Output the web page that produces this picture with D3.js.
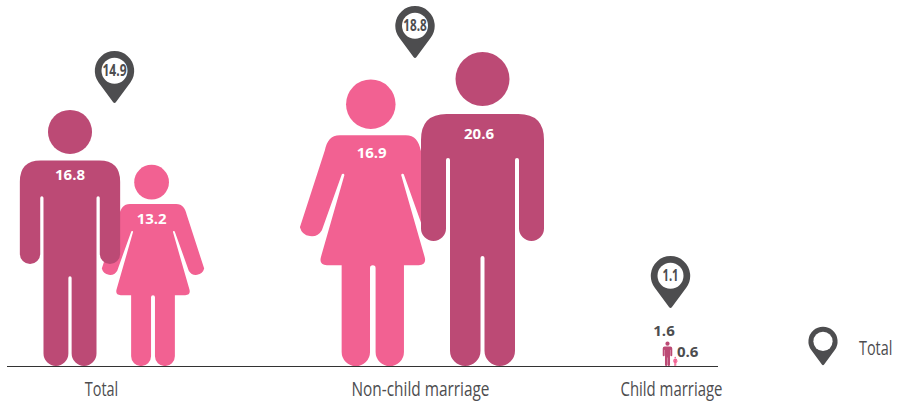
<!DOCTYPE html>
<html>
<head>
<meta charset="utf-8">
<script src="https://cdnjs.cloudflare.com/ajax/libs/d3/7.8.5/d3.min.js"></script>
<style>
  html, body { margin: 0; padding: 0; background: #fff; }
  svg { display: block; }
  .val { font-family: "Open Sans", sans-serif; font-weight: 700; font-size: 15px; text-anchor: middle; }
  .cat { font-family: "Open Sans", sans-serif; font-size: 20px; fill: #4d4d4f; }
  .pin-val { font-family: "Open Sans", sans-serif; font-weight: 700; font-size: 16px; fill: #4d4d4f; text-anchor: middle; }
</style>
</head>
<body>
<div id="chart"></div>
<script>
// values
const groups = ["Total", "Non-child marriage", "Child marriage"];
const maleValues = [16.8, 20.6, 1.6];
const femaleValues = [13.2, 16.9, 0.6];
const totalValues = [14.9, 18.8, 1.1];
// the pink non-child figure is drawn at the height of 18.8 in the source, not 16.9
const femaleDrawn = [13.2, 18.8, 0.6];

const width = 900;
const height = 401;
const baseline = 366;
const colors = { male: "#bc4a75", female: "#f26192", pin: "#4d4d4f" };

// group layout, the source spaces these by hand
const xCat = d3.scaleOrdinal(groups, [101, 420, 671]);
const catWidth = d3.scaleOrdinal(groups, [33.5, 138, 102]);
const xMale = d3.scaleOrdinal(groups, [70, 482.5, 667.5]);
const xFemale = d3.scaleOrdinal(groups, [153, 372.8, 675.3]);
const xMaleLabel = d3.scaleOrdinal(groups, [70, 479, 664]);
const yMaleLabel = d3.scaleOrdinal(groups, [175, 134, 331]);
const xFemaleLabel = d3.scaleOrdinal(groups, [151.7, 371.7, 687.7]);
const yFemaleLabel = d3.scaleOrdinal(groups, [219, 152.5, 351.7]);
const xPin = d3.scaleOrdinal(groups, [114.5, 415, 670.5]);
const yPinTip = d3.scaleOrdinal(groups, [104, 59, 309]);
const pinTextWidth = d3.scaleOrdinal(groups, [24, 23.5, 16]);

const y = d3.scaleLinear().domain([0, 20.6]).range([baseline, 52]);

// icon outlines, centred on x=0 with the top at y=0
const maleH = 314;
const maleBody = "M-36 62H36Q61.5 62 61.5 88V176.5A12.5 12.5 0 0 1 36.5 176.5V108A2 2 0 0 0 32.5 108V298.75" +
  "A15.25 15.25 0 0 1 2 298.75V206A2 2 0 0 0 -2 206V298.75A15.25 15.25 0 0 1 -32.5 298.75V108" +
  "A2 2 0 0 0 -36.5 108V176.5A12.5 12.5 0 0 1 -61.5 176.5V88Q-61.5 62 -36 62Z";
const femaleH = 287;
const femaleBody = "M-33 56H33C42 56 46 62 48 71L73 148A12 12 0 0 1 51 151L31 95A1.4 1.4 0 0 0 28.5 96L52 178" +
  "Q54 186 46 186H31.2V273A14.2 14.2 0 0 1 2.8 273V189A2.8 2.8 0 0 0 -2.8 189V273A14.2 14.2 0 0 1 -31.2 273V186" +
  "H-46Q-54 186 -52 178L-28.5 96A1.4 1.4 0 0 0 -31 95L-51 151A12 12 0 0 1 -73 148L-48 71C-46 62 -42 56 -33 56Z";
// pin with tip at 0,0
const pinShape = "M-1.5 -2L-15.9 -21.6A19.7 19.7 0 1 1 15.9 -21.6L1.5 -2Q0 0 -1.5 -2Z";

const svg = d3.select("#chart").append("svg")
  .attr("width", width)
  .attr("height", height)
  .attr("viewBox", "0 0 " + width + " " + height);

function drawFigure(x, v, shape, fullH, headX, headY, headR, color) {
  const h = baseline - y(v);
  const k = h / fullH;
  const g = svg.append("g")
    .attr("transform", "translate(" + x + "," + y(v) + ") scale(" + k + ")")
    .attr("fill", color);
  g.append("circle").attr("cx", headX).attr("cy", headY).attr("r", headR);
  g.append("path").attr("d", shape);
}

// females go first, the male arm sits over them
groups.forEach((g, i) => {
  drawFigure(xFemale(g), femaleDrawn[i], femaleBody, femaleH, -2, 24.8, 24.8, colors.female);
});
groups.forEach((g, i) => {
  drawFigure(xMale(g), maleValues[i], maleBody, maleH, 0, 27, 27, colors.male);
});

// value labels, white inside big figures, dark beside the tiny ones
const labelFill = (v) => v > 5 ? "#fff" : colors.pin;
groups.forEach((g, i) => {
  svg.append("text").attr("class", "val")
    .attr("x", xMaleLabel(g))
    .attr("y", yMaleLabel(g))
    .attr("dy", "0.36em")
    .attr("fill", labelFill(maleValues[i]))
    .text(maleValues[i].toFixed(1));
  svg.append("text").attr("class", "val")
    .attr("x", xFemaleLabel(g))
    .attr("y", yFemaleLabel(g))
    .attr("dy", "0.36em")
    .attr("fill", labelFill(femaleValues[i]))
    .text(femaleValues[i].toFixed(1));
});

// pins
function drawPin(x, tip, k) {
  const g = svg.append("g").attr("transform", "translate(" + x + "," + tip + ") scale(" + k + ")");
  g.append("path").attr("d", pinShape).attr("fill", colors.pin);
  g.append("circle").attr("cx", 0).attr("cy", -33.3).attr("r", 13).attr("fill", "#fff");
  return g;
}
groups.forEach((g, i) => {
  drawPin(xPin(g), yPinTip(g), 1);
  svg.append("text").attr("class", "pin-val")
    .attr("x", xPin(g))
    .attr("y", yPinTip(g) - 33.3)
    .attr("dy", "0.36em")
    .attr("textLength", pinTextWidth(g))
    .attr("lengthAdjust", "spacingAndGlyphs")
    .text(totalValues[i].toFixed(1));
});

// baseline and category labels
svg.append("line")
  .attr("x1", 7).attr("x2", 718)
  .attr("y1", baseline + 0.5).attr("y2", baseline + 0.5)
  .attr("stroke", "#333").attr("stroke-width", 1);

const axis = svg.append("g")
  .attr("transform", "translate(0," + baseline + ")")
  .call(d3.axisBottom(xCat).tickSize(0).tickPadding(16));
axis.select(".domain").remove();
axis.selectAll("text")
  .attr("class", "cat")
  .attr("textLength", (d) => catWidth(d))
  .attr("lengthAdjust", "spacingAndGlyphs");
axis.attr("font-family", null).attr("font-size", null);

// legend, squeezed with a transform so the text stays inside the window
drawPin(823, baseline, 0.74);
svg.append("text").attr("class", "cat")
  .attr("transform", "translate(859,348) scale(0.72,1)")
  .attr("dy", "0.36em")
  .text(groups[0]);
</script>
</body>
</html>
